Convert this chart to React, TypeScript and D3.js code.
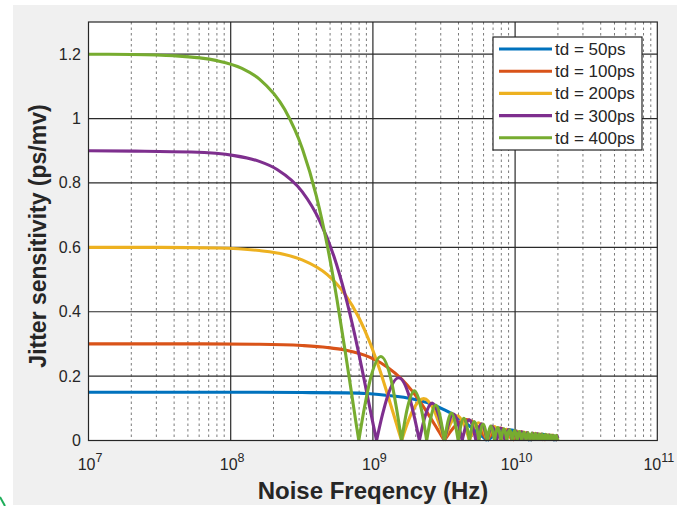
import React from "react";
import * as d3 from "d3";

type Pt = [number, number]; // [frequency in GHz, jitter sensitivity in ps/mV]

const X_TICKS = [1e7, 1e8, 1e9, 1e10, 1e11];
const X_TICK_EXPONENTS = ["7", "8", "9", "10", "11"];
const Y_TICKS = [0, 0.2, 0.4, 0.6, 0.8, 1, 1.2];
const Y_TICK_LABELS = ["0", "0.2", "0.4", "0.6", "0.8", "1", "1.2"];
const SERIES_NAMES = ["td = 50ps", "td = 100ps", "td = 200ps", "td = 300ps", "td = 400ps"];
const SERIES_COLORS = ["#0072BD", "#D95319", "#EDB120", "#7E2F8E", "#77AC30"];

const TD50: Pt[] = [
  [0.01, 0.15], [0.127, 0.15], [0.318, 0.149], [0.637, 0.148], [0.955, 0.145], [1.273, 0.14], [1.91, 0.129],
  [2.546, 0.114], [3.183, 0.095], [3.82, 0.076], [4.456, 0.055], [5.093, 0.035], [5.729, 0.016], [6.048, 0.008], [6.366, 0],
  [7.003, 0.013], [7.639, 0.023], [9.103, 0.033], [10.82, 0.023], [11.78, 0.012], [12.73, 0],
  [14.0, 0.013], [15.65, 0.019], [17.5, 0.012], [19.1, 0], [20, 0.0066],
];

const TD100: Pt[] = [
  [0.01, 0.3], [0.0637, 0.3], [0.159, 0.299], [0.318, 0.295], [0.477, 0.289], [0.637, 0.281], [0.955, 0.258],
  [1.273, 0.227], [1.592, 0.191], [1.91, 0.151], [2.228, 0.11], [2.546, 0.07], [2.865, 0.033], [3.024, 0.016], [3.183, 0],
  [3.501, 0.027], [3.82, 0.047], [4.552, 0.065], [5.411, 0.045], [5.889, 0.023], [6.366, 0],
  [7.003, 0.026], [7.827, 0.0385], [8.753, 0.025], [9.549, 0],
  [11.05, 0.027], [12.73, 0], [14.25, 0.021], [15.92, 0], [17.44, 0.017], [19.1, 0], [20, 0.0118],
];

const TD200: Pt[] = [
  [0.01, 0.6], [0.0318, 0.6], [0.0796, 0.598], [0.159, 0.59], [0.239, 0.578], [0.318, 0.561], [0.478, 0.515],
  [0.637, 0.454], [0.796, 0.382], [0.955, 0.303], [1.114, 0.221], [1.274, 0.14], [1.433, 0.066], [1.512, 0.031], [1.592, 0],
  [1.751, 0.054], [1.91, 0.094], [2.276, 0.13], [2.706, 0.091], [2.945, 0.047], [3.183, 0],
  [3.502, 0.051], [3.915, 0.077], [4.378, 0.049], [4.775, 0],
  [5.526, 0.055], [6.366, 0], [7.132, 0.043], [7.958, 0], [8.724, 0.035], [9.549, 0], [10.32, 0.029], [11.14, 0],
  [11.91, 0.025], [12.73, 0], [13.5, 0.022], [14.32, 0], [15.09, 0.02], [15.92, 0], [16.68, 0.018], [17.51, 0],
  [18.27, 0.017], [19.1, 0], [19.87, 0.015], [20, 0.0149],
];

const TD300: Pt[] = [
  [0.01, 0.9], [0.0212, 0.899], [0.053, 0.896], [0.106, 0.885], [0.159, 0.867], [0.212, 0.842], [0.318, 0.773],
  [0.424, 0.681], [0.531, 0.573], [0.637, 0.454], [0.743, 0.331], [0.849, 0.21], [0.955, 0.098], [1.008, 0.047], [1.061, 0],
  [1.167, 0.08], [1.273, 0.14], [1.517, 0.195], [1.804, 0.136], [1.963, 0.07], [2.122, 0],
  [2.334, 0.077], [2.609, 0.116], [2.918, 0.074], [3.183, 0],
  [3.683, 0.082], [4.244, 0], [4.753, 0.064], [5.305, 0], [5.815, 0.052], [6.366, 0], [6.876, 0.044], [7.427, 0],
  [7.937, 0.038], [8.488, 0], [8.998, 0.034], [9.549, 0], [10.06, 0.03], [10.61, 0], [11.12, 0.027], [11.67, 0],
  [12.18, 0.025], [12.73, 0], [13.24, 0.023], [13.79, 0], [14.3, 0.021], [14.85, 0], [15.36, 0.02], [15.92, 0],
  [16.42, 0.018], [16.98, 0], [17.49, 0.017], [18.04, 0], [18.55, 0.016], [19.1, 0], [19.61, 0.0155], [20, 0.0069],
];

const TD400: Pt[] = [
  [0.01, 1.2], [0.02, 1.199], [0.04, 1.195], [0.08, 1.18], [0.12, 1.156], [0.16, 1.122], [0.24, 1.028],
  [0.32, 0.905], [0.4, 0.76], [0.48, 0.601], [0.56, 0.436], [0.64, 0.274], [0.72, 0.125], [0.76, 0.056], [0.796, 0],
  [0.876, 0.107], [0.955, 0.187], [1.138, 0.261], [1.353, 0.182], [1.473, 0.094], [1.592, 0],
  [1.751, 0.102], [1.957, 0.154], [2.189, 0.098], [2.388, 0],
  [2.763, 0.11], [3.183, 0], [3.566, 0.085], [3.979, 0], [4.362, 0.069], [4.775, 0], [5.158, 0.059], [5.571, 0],
  [5.954, 0.051], [6.366, 0], [6.75, 0.045], [7.162, 0], [7.546, 0.04], [7.958, 0], [8.342, 0.036], [8.754, 0],
  [9.138, 0.033], [9.549, 0], [9.934, 0.031], [10.35, 0], [10.73, 0.028], [11.14, 0], [11.53, 0.026], [11.94, 0],
  [12.32, 0.025], [12.73, 0], [13.12, 0.023], [13.53, 0], [13.91, 0.022], [14.32, 0], [14.71, 0.021], [15.12, 0],
  [15.5, 0.02], [15.92, 0], [16.3, 0.019], [16.71, 0], [17.1, 0.018], [17.51, 0], [17.89, 0.017], [18.3, 0],
  [18.69, 0.016], [19.1, 0], [19.48, 0.016], [19.89, 0], [20, 0.006],
];

const SERIES = [TD50, TD100, TD200, TD300, TD400];

const W = 677;
const H = 506;
const LEFT = 88.5;
const RIGHT = 657.3;
const TOP = 22;
const BOTTOM = 440.5;
const FONT = "'Liberation Sans', Arial, Helvetica, sans-serif";
const TXT = "#262626";

function splitAtZeros(pts: Pt[]): Pt[][] {
  const segs: Pt[][] = [];
  let cur: Pt[] = [];
  pts.forEach((p, i) => {
    cur.push(p);
    if (p[1] === 0 && i > 0 && i < pts.length - 1) {
      segs.push(cur);
      cur = [p];
    }
  });
  if (cur.length > 1) segs.push(cur);
  return segs;
}

export default function App() {
  const x = d3.scaleLog().domain([1e7, 1e11]).range([LEFT, RIGHT]);
  const y = d3.scaleLinear().domain([0, 1.3]).range([BOTTOM, TOP]);
  const line = d3
    .line<Pt>()
    .x((d) => x(d[0] * 1e9))
    .y((d) => y(d[1]))
    .curve(d3.curveMonotoneX);

  const minor: number[] = [];
  for (let e = 7; e < 11; e++) for (let k = 2; k <= 9; k++) minor.push(k * Math.pow(10, e));

  return (
    <svg width={W} height={H} style={{ position: "absolute", left: 0, top: 0 }} fontFamily={FONT}>
      <rect x={0} y={0} width={W} height={H} fill="#ffffff" />
      <rect x={13} y={5} width={W - 13} height={500} fill="#f0f0f0" />
      <path d="M0,497 L5,506" stroke="#1fae5a" strokeWidth={2} fill="none" />
      <rect x={LEFT} y={TOP} width={RIGHT - LEFT} height={BOTTOM - TOP} fill="#ffffff" />

      {minor.map((m) => (
        <line key={"m" + m} x1={x(m)} x2={x(m)} y1={TOP} y2={BOTTOM} stroke="#7a7a7a" strokeWidth={1} strokeDasharray="2.5,3" />
      ))}
      {X_TICKS.slice(1, -1).map((t) => (
        <line key={"gx" + t} x1={x(t)} x2={x(t)} y1={TOP} y2={BOTTOM} stroke="#2a2a2a" strokeWidth={1.2} />
      ))}
      {Y_TICKS.slice(1).map((t) => (
        <line key={"gy" + t} x1={LEFT} x2={RIGHT} y1={y(t)} y2={y(t)} stroke="#2a2a2a" strokeWidth={1.2} />
      ))}

      {SERIES.map((pts, i) => (
        <path
          key={"s" + i}
          d={splitAtZeros(pts).map((s) => line(s)).join("")}
          fill="none"
          stroke={SERIES_COLORS[i]}
          strokeWidth={3.1}
          strokeLinejoin="round"
          strokeLinecap="butt"
        />
      ))}

      <rect x={LEFT} y={TOP} width={RIGHT - LEFT} height={BOTTOM - TOP} fill="none" stroke={TXT} strokeWidth={1.2} />

      {Y_TICKS.map((t, i) => (
        <text key={"yl" + t} x={81} y={y(t) + 5.5} textAnchor="end" fontSize={16} fill={TXT}>
          {Y_TICK_LABELS[i]}
        </text>
      ))}
      {X_TICKS.map((t, i) => (
        <text key={"xl" + t} x={x(t) + 1.5} y={470} textAnchor="middle" fontSize={16} fill={TXT}>
          <tspan>10</tspan>
          <tspan dy={-8.5} fontSize={12.5}>
            {X_TICK_EXPONENTS[i]}
          </tspan>
        </text>
      ))}

      <text x={373} y={499} textAnchor="middle" fontSize={24} fontWeight="bold" fill={TXT}>
        Noise Freqency (Hz)
      </text>
      <text
        transform={`translate(46,236) rotate(-90)`}
        textAnchor="middle"
        fontSize={23}
        fontWeight="bold"
        fill={TXT}
      >
        Jitter sensitivity (ps/mv)
      </text>

      <g>
        <rect x={493} y={37} width={149} height={113} fill="#ffffff" stroke={TXT} strokeWidth={1.2} />
        {SERIES_NAMES.map((n, i) => (
          <g key={"lg" + i}>
            <line x1={499} x2={552} y1={49 + i * 22.2} y2={49 + i * 22.2} stroke={SERIES_COLORS[i]} strokeWidth={3.1} />
            <text x={555} y={49 + i * 22.2 + 6} fontSize={17} fill={TXT}>
              {n}
            </text>
          </g>
        ))}
      </g>
    </svg>
  );
}
